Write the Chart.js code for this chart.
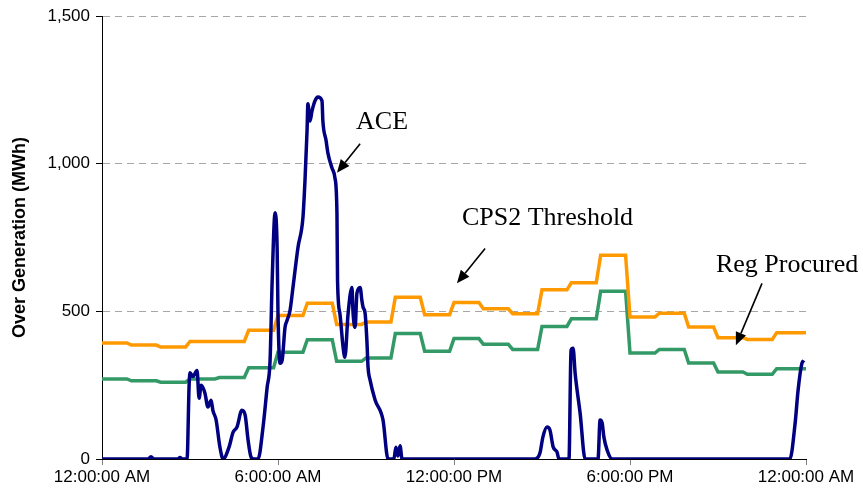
<!DOCTYPE html>
<html>
<head>
<meta charset="utf-8">
<script src="https://cdn.jsdelivr.net/npm/chart.js@4/dist/chart.umd.min.js"></script>
<style>
  html, body { margin: 0; padding: 0; background: #fff; }
  #wrap { width: 863px; height: 499px; }
</style>
</head>
<body>
<div id="wrap"><canvas id="chart" width="863" height="499"></canvas></div>
<script>
// hourly values, hour 0 = midnight
const hours = [0,1,2,3,4,5,6,7,8,9,10,11,12,13,14,15,16,17,18,19,20,21,22,23];
const cps2Threshold = [393,386,379,398,398,436,486,528,456,464,548,489,530,509,492,573,597,690,481,494,447,411,405,428];
const regProcured = [271,265,260,271,276,309,362,404,331,342,425,365,408,389,371,449,475,568,359,371,325,295,287,306];

// ACE samples: time in hours, value in MWh
const aceHours = [0,1.57,1.67,1.77,2.59,2.66,2.73,2.9,2.97,3.0,3.1,3.24,3.31,3.38,3.51,3.61,3.72,3.78,3.89,4.02,4.13,4.33,4.47,4.6,4.77,4.88,4.98,5.08,5.18,5.32,5.49,5.63,5.73,5.8,5.9,5.97,6.0,6.07,6.14,6.24,6.31,6.41,6.51,6.68,6.85,6.92,6.99,7.02,7.09,7.16,7.26,7.36,7.5,7.53,7.64,7.7,7.84,7.94,8.01,8.03,8.11,8.22,8.28,8.39,8.52,8.56,8.63,8.69,8.8,8.86,8.9,8.97,9.03,9.07,9.14,9.31,9.58,9.75,9.95,10.02,10.09,10.16,10.23,14.76,14.93,15.03,15.17,15.27,15.38,15.51,15.58,15.92,15.99,16.06,16.13,16.3,16.47,16.91,16.98,17.05,17.11,17.22,17.39,23.45,23.63,23.73,23.86,23.93];
const aceValues = [0,0,8,0,0,5,0,0,250,292,280,300,206,250,223,176,199,165,132,40,0,40,91,108,165,149,64,7,0,0,108,243,334,600,834,716,493,324,334,446,470,503,581,716,818,943,1111,1203,1145,1179,1213,1226,1213,1145,1078,1037,986,953,831,605,493,378,345,493,581,493,446,561,581,537,514,493,402,311,267,200,132,0,0,40,10,45,0,0,20,74,108,98,41,24,0,0,368,375,290,155,0,0,132,122,74,30,0,0,122,233,324,334];

const xTickLabels = ['12:00:00 AM','6:00:00 AM','12:00:00 PM','6:00:00 PM','12:00:00 AM'];

// text callouts: [label, hour, value] and arrows [fromHour, fromValue, toHour, toValue]
const calloutText = ['ACE', 'CPS2 Threshold', 'Reg Procured'];
const calloutAt = [[8.66, 1118], [12.27, 794], [20.93, 632]];
const arrowLines = [[8.80, 1068, 8.01, 970], [13.06, 713, 12.10, 595], [22.50, 595, 21.61, 385]];

// hourly steps with a short ramp into the next hour
function stepPoints(vals) {
  const pts = [];
  vals.forEach((v, i) => {
    pts.push({ x: i === 0 ? 0 : hours[i], y: v });
    pts.push({ x: i === vals.length - 1 ? 24 : hours[i] + 0.85, y: v });
  });
  return pts;
}

const acePoints = aceHours.map((h, i) => ({ x: h, y: aceValues[i] }));

const callouts = {
  id: 'callouts',
  afterDatasetsDraw(chart) {
    const { ctx, scales: { x, y } } = chart;
    ctx.save();
    ctx.fillStyle = '#000';
    ctx.font = '26px "Liberation Serif", "Times New Roman", serif';
    ctx.textAlign = 'left';
    ctx.textBaseline = 'alphabetic';
    calloutText.forEach((t, i) => {
      ctx.fillText(t, x.getPixelForValue(calloutAt[i][0]), y.getPixelForValue(calloutAt[i][1]));
    });
    ctx.strokeStyle = '#000';
    ctx.lineWidth = 1.6;
    arrowLines.forEach(a => {
      const x1 = x.getPixelForValue(a[0]), y1 = y.getPixelForValue(a[1]);
      const x2 = x.getPixelForValue(a[2]), y2 = y.getPixelForValue(a[3]);
      const ang = Math.atan2(y2 - y1, x2 - x1);
      const len = 13, wid = 5.5;
      const bx = x2 - len * Math.cos(ang), by = y2 - len * Math.sin(ang);
      ctx.beginPath();
      ctx.moveTo(x1, y1);
      ctx.lineTo(bx, by);
      ctx.stroke();
      ctx.beginPath();
      ctx.moveTo(x2, y2);
      ctx.lineTo(bx + wid * Math.sin(ang), by - wid * Math.cos(ang));
      ctx.lineTo(bx - wid * Math.sin(ang), by + wid * Math.cos(ang));
      ctx.closePath();
      ctx.fill();
    });
    ctx.restore();
  }
};

const tickFont = { family: '"Liberation Sans", Arial, sans-serif', size: 17 };

const chart = new Chart(document.getElementById('chart').getContext('2d'), {
  type: 'line',
  data: {
    datasets: [
      {
        label: 'ACE',
        data: acePoints,
        borderColor: '#000080',
        borderWidth: 3.5,
        pointRadius: 0,
        cubicInterpolationMode: 'monotone',
        order: 0
      },
      {
        label: 'CPS2 Threshold',
        data: stepPoints(cps2Threshold),
        borderColor: '#FF9900',
        borderWidth: 3.5,
        pointRadius: 0,
        order: 1
      },
      {
        label: 'Reg Procured',
        data: stepPoints(regProcured),
        borderColor: '#339966',
        borderWidth: 3.5,
        pointRadius: 0,
        order: 2
      }
    ]
  },
  options: {
    responsive: false,
    animation: false,
    layout: { padding: { top: 15, right: 57, bottom: 0, left: 0 } },
    plugins: {
      legend: { display: false },
      tooltip: { enabled: false }
    },
    scales: {
      x: {
        type: 'linear',
        min: 0,
        max: 24,
        afterFit: s => { s.height = 40; },
        afterBuildTicks: s => { s.ticks = [0, 6, 12, 18, 24].map(v => ({ value: v })); },
        ticks: {
          autoSkip: false,
          maxRotation: 0,
          padding: 2,
          color: '#000',
          font: tickFont,
          callback: (v) => xTickLabels[v / 6]
        },
        grid: { drawOnChartArea: false, tickLength: 6, tickColor: '#808080' },
        border: { color: '#000', width: 1 }
      },
      y: {
        min: 0,
        max: 1500,
        afterFit: s => { s.width = 102; },
        ticks: {
          stepSize: 500,
          padding: 6,
          color: '#000',
          font: tickFont,
          callback: v => v.toLocaleString('en-US')
        },
        grid: {
          color: c => (c.tick && c.tick.value === 0) ? 'rgba(0,0,0,0)' : '#a6a6a6',
          lineWidth: 1,
          tickLength: 6,
          tickColor: '#000'
        },
        border: { color: '#000', width: 1, dash: [7, 5] },
        title: {
          display: true,
          text: 'Over Generation (MWh)',
          color: '#000',
          font: { family: '"Liberation Sans", Arial, sans-serif', size: 18, weight: 'bold' },
          padding: { top: 9, bottom: 0 }
        }
      }
    }
  },
  plugins: [callouts]
});
</script>
</body>
</html>
